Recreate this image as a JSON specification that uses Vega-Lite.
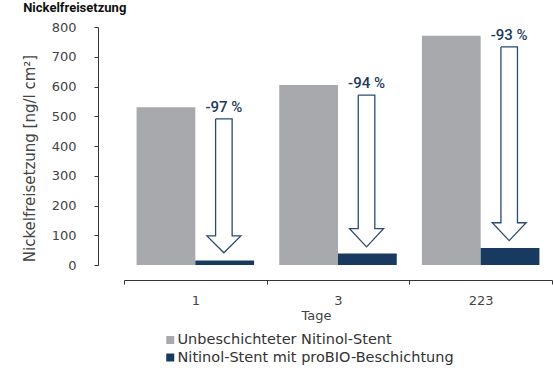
{
  "$schema": "https://vega.github.io/schema/vega-lite/v6.json",
  "autosize": {"type": "none"},
  "width": 428,
  "height": 238,
  "padding": {"left": 124, "top": 27, "right": 1, "bottom": 103},
  "background": "white",
  "config": {
    "view": {"stroke": null},
    "font": "DejaVu Sans",
    "axis": {"labelFont": "DejaVu Sans", "titleFont": "DejaVu Sans", "labelColor": "#444", "titleColor": "#444", "domainColor": "#333", "tickColor": "#333", "grid": false}
  },
  "title": {"text": "Nickelfreisetzung", "anchor": "start", "frame": "bounds", "dx": 1, "font": "Roboto", "fontSize": 13, "fontWeight": "bold", "color": "#111", "offset": 6},
  "datasets": {
    "bars": [
      {"Tage": "1", "Gruppe": "Unbeschichteter Nitinol-Stent", "Wert": 530},
      {"Tage": "1", "Gruppe": "Nitinol-Stent mit proBIO-Beschichtung", "Wert": 15},
      {"Tage": "3", "Gruppe": "Unbeschichteter Nitinol-Stent", "Wert": 605},
      {"Tage": "3", "Gruppe": "Nitinol-Stent mit proBIO-Beschichtung", "Wert": 39},
      {"Tage": "223", "Gruppe": "Unbeschichteter Nitinol-Stent", "Wert": 771},
      {"Tage": "223", "Gruppe": "Nitinol-Stent mit proBIO-Beschichtung", "Wert": 57}
    ],
    "arrows": [
      {"arrow": "1", "i": 1, "ax": 0.642, "ay": 491},
      {"arrow": "1", "i": 2, "ax": 0.758, "ay": 491},
      {"arrow": "1", "i": 3, "ax": 0.758, "ay": 98},
      {"arrow": "1", "i": 4, "ax": 0.819, "ay": 98},
      {"arrow": "1", "i": 5, "ax": 0.700, "ay": 41},
      {"arrow": "1", "i": 6, "ax": 0.581, "ay": 98},
      {"arrow": "1", "i": 7, "ax": 0.642, "ay": 98},
      {"arrow": "1", "i": 8, "ax": 0.642, "ay": 491},
      {"arrow": "3", "i": 1, "ax": 1.642, "ay": 571},
      {"arrow": "3", "i": 2, "ax": 1.758, "ay": 571},
      {"arrow": "3", "i": 3, "ax": 1.758, "ay": 122},
      {"arrow": "3", "i": 4, "ax": 1.819, "ay": 122},
      {"arrow": "3", "i": 5, "ax": 1.700, "ay": 61},
      {"arrow": "3", "i": 6, "ax": 1.581, "ay": 122},
      {"arrow": "3", "i": 7, "ax": 1.642, "ay": 122},
      {"arrow": "3", "i": 8, "ax": 1.642, "ay": 571},
      {"arrow": "223", "i": 1, "ax": 2.642, "ay": 733},
      {"arrow": "223", "i": 2, "ax": 2.758, "ay": 733},
      {"arrow": "223", "i": 3, "ax": 2.758, "ay": 142},
      {"arrow": "223", "i": 4, "ax": 2.819, "ay": 142},
      {"arrow": "223", "i": 5, "ax": 2.700, "ay": 82},
      {"arrow": "223", "i": 6, "ax": 2.581, "ay": 142},
      {"arrow": "223", "i": 7, "ax": 2.642, "ay": 142},
      {"arrow": "223", "i": 8, "ax": 2.642, "ay": 733}
    ],
    "labels": [
      {"ax": 0.70, "ay": 491, "label": "-97 %"},
      {"ax": 1.70, "ay": 571, "label": "-94 %"},
      {"ax": 2.70, "ay": 733, "label": "-93 %"}
    ]
  },
  "resolve": {"scale": {"x": "independent"}, "axis": {"x": "independent"}},
  "layer": [
    {
      "data": {"name": "bars"},
      "mark": {"type": "bar"},
      "encoding": {
        "x": {"field": "Tage", "type": "nominal", "sort": ["1", "3", "223"],
          "scale": {"paddingInner": 0, "paddingOuter": 0},
          "axis": {"title": "Tage", "labelAngle": 0, "offset": 15, "tickBand": "extent", "tickSize": 4, "labelPadding": 10, "labelFontSize": 13, "titleFontSize": 13, "titleFontWeight": "normal", "titlePadding": 2, "titleX": 192, "titleAlign": "center"}},
        "xOffset": {"field": "Gruppe", "type": "nominal", "sort": ["Unbeschichteter Nitinol-Stent", "Nitinol-Stent mit proBIO-Beschichtung"],
          "scale": {"paddingInner": 0, "paddingOuter": 0.214}},
        "y": {"field": "Wert", "type": "quantitative",
          "scale": {"domain": [0, 800], "nice": false},
          "axis": {"title": "Nickelfreisetzung [ng/l cm²]", "values": [0, 100, 200, 300, 400, 500, 600, 700, 800], "offset": 26, "tickSize": 4, "labelPadding": 18, "labelFontSize": 13, "titleFontSize": 15, "titleFontWeight": "normal", "titlePadding": 14, "titleY": 131}},
        "color": {"field": "Gruppe", "type": "nominal",
          "scale": {"domain": ["Unbeschichteter Nitinol-Stent", "Nitinol-Stent mit proBIO-Beschichtung"], "range": ["#a7a9ac", "#183a60"]},
          "legend": {"title": null, "orient": "none", "legendX": 39, "legendY": 305.75, "direction": "vertical", "symbolType": "square", "symbolSize": 64, "symbolStrokeWidth": 0, "labelFontSize": 14.5, "labelFont": "DejaVu Sans", "labelColor": "#333", "labelLimit": 400, "padding": 0, "rowPadding": 2.5, "labelOffset": 0}}
      }
    },
    {
      "layer": [
        {
          "data": {"name": "arrows"},
          "mark": {"type": "line", "color": "#2a4a70", "strokeWidth": 1.3, "strokeJoin": "miter"},
          "encoding": {
            "x": {"field": "ax", "type": "quantitative", "scale": {"domain": [0, 3], "nice": false, "zero": false}, "axis": null},
            "y": {"field": "ay", "type": "quantitative", "scale": {"domain": [0, 800], "nice": false},
              "axis": {"title": "Nickelfreisetzung [ng/l cm²]", "values": [0, 100, 200, 300, 400, 500, 600, 700, 800], "offset": 26, "tickSize": 4, "labelPadding": 18, "labelFontSize": 13, "titleFontSize": 15, "titleFontWeight": "normal", "titlePadding": 14, "titleY": 131}},
            "detail": {"field": "arrow", "type": "nominal"},
            "order": {"field": "i", "type": "quantitative"}
          }
        },
        {
          "data": {"name": "labels"},
          "mark": {"type": "text", "color": "#1d3a5c", "font": "Roboto", "fontSize": 15, "fontWeight": 500, "baseline": "alphabetic", "dy": -7},
          "encoding": {
            "x": {"field": "ax", "type": "quantitative", "scale": {"domain": [0, 3], "nice": false, "zero": false}, "axis": null},
            "y": {"field": "ay", "type": "quantitative",
              "axis": {"title": "Nickelfreisetzung [ng/l cm²]", "values": [0, 100, 200, 300, 400, 500, 600, 700, 800], "offset": 26, "tickSize": 4, "labelPadding": 18, "labelFontSize": 13, "titleFontSize": 15, "titleFontWeight": "normal", "titlePadding": 14, "titleY": 131}},
            "text": {"field": "label", "type": "nominal"}
          }
        }
      ]
    }
  ]
}
